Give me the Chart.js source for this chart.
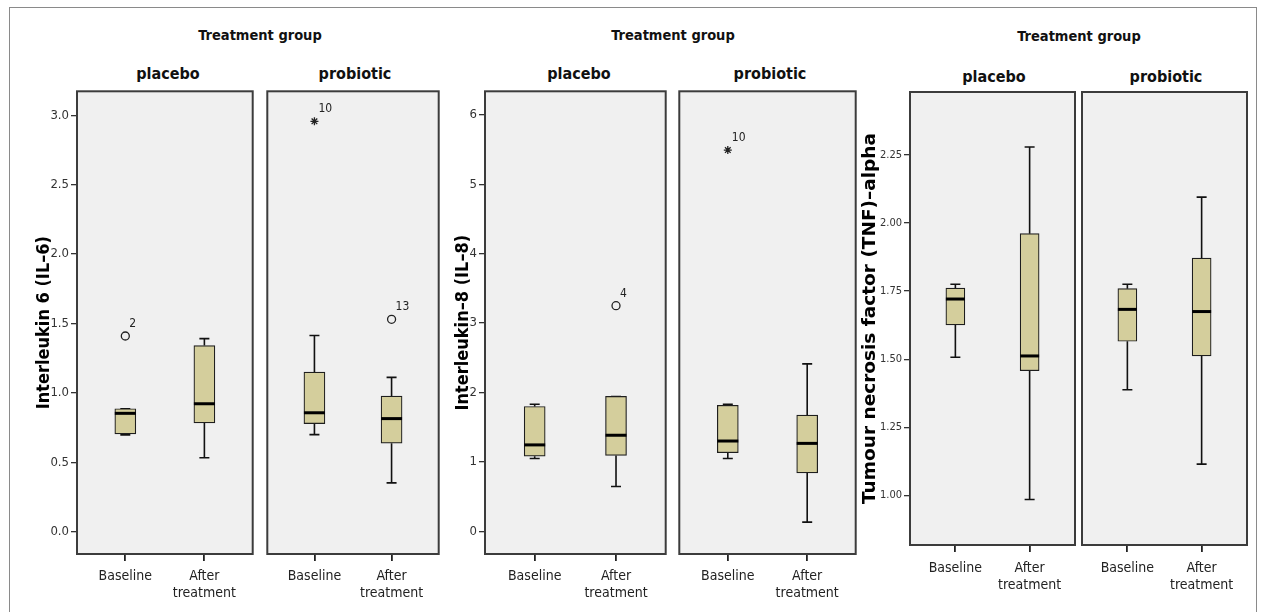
<!DOCTYPE html>
<html>
<head>
<meta charset="utf-8">
<script src="https://cdn.jsdelivr.net/npm/chart.js@4.4.1/dist/chart.umd.min.js"></script>
<style>
  body { margin: 0; background: #fff; width: 1261px; height: 612px; overflow: hidden; position: relative;
         font-family: "DejaVu Sans Condensed", "DejaVu Sans", sans-serif; }
  .outer { position: absolute; left: 9px; top: 7px; width: 1246px; height: 640px; border: 1px solid #8a8a8a; }
  .head { position: absolute; transform: translate(-50%, -50%); font-weight: bold; white-space: nowrap; color: #111; }
  .group { font-size: 14.5px; }
  .sub { font-size: 16px; }
  canvas { position: absolute; }
</style>
</head>
<body>
<div class="outer"></div>

<div class="head group" style="left:260px;top:35px">Treatment group</div>
<div class="head sub" style="left:168px;top:73px">placebo</div>
<div class="head sub" style="left:355px;top:73px">probiotic</div>

<div class="head group" style="left:673px;top:35px">Treatment group</div>
<div class="head sub" style="left:579px;top:73px">placebo</div>
<div class="head sub" style="left:770px;top:73px">probiotic</div>

<div class="head group" style="left:1079px;top:36px">Treatment group</div>
<div class="head sub" style="left:994px;top:76px">placebo</div>
<div class="head sub" style="left:1166px;top:76px">probiotic</div>

<canvas id="c0"></canvas><canvas id="c1"></canvas>
<canvas id="c2"></canvas><canvas id="c3"></canvas>
<canvas id="c4"></canvas><canvas id="c5"></canvas>

<script>
// ---- values ----
const CATEGORIES = ['Baseline', ['After', 'treatment']];

// one row per category: [min, q1, median, q3, max]
const IL6_PLACEBO   = [[0.698, 0.705, 0.853, 0.886, 0.886], [0.533, 0.784, 0.922, 1.341, 1.391]];
const IL6_PROBIOTIC = [[0.700, 0.779, 0.857, 1.150, 1.413], [0.352, 0.638, 0.815, 0.977, 1.112]];
const IL8_PLACEBO   = [[1.050, 1.084, 1.246, 1.799, 1.832], [0.648, 1.095, 1.385, 1.944, 1.944]];
const IL8_PROBIOTIC = [[1.050, 1.134, 1.302, 1.816, 1.832], [0.134, 0.844, 1.268, 1.676, 2.413]];
const TNF_PLACEBO   = [[1.507, 1.626, 1.721, 1.761, 1.775], [0.985, 1.458, 1.512, 1.961, 2.279]];
const TNF_PROBIOTIC = [[1.388, 1.566, 1.683, 1.759, 1.775], [1.115, 1.512, 1.675, 1.871, 2.095]];

// outliers: [category index, value, case number, marker]
const IL6_PLACEBO_OUT   = [[0, 1.41, '2', 'circle']];
const IL6_PROBIOTIC_OUT = [[0, 2.956, '10', 'star'], [1, 1.53, '13', 'circle']];
const IL8_PLACEBO_OUT   = [[1, 3.251, '4', 'circle']];
const IL8_PROBIOTIC_OUT = [[0, 5.492, '10', 'star']];

const IL6_TICKS = [0, 0.5, 1, 1.5, 2, 2.5, 3];
const IL8_TICKS = [0, 1, 2, 3, 4, 5, 6];
const TNF_TICKS = [1, 1.25, 1.5, 1.75, 2, 2.25];

// ---- layout ----
const FONT = '"DejaVu Sans Condensed", "DejaVu Sans", sans-serif';
const WIDE = '"DejaVu Sans", sans-serif';
const PANELS = [
  { title: 'Interleukin 6 (IL–6)', ticks: IL6_TICKS, dec: 1, yMin: -0.160, yMax: 3.172,
    top: 88, bottom: 554, axisLeft: 28, titleX: 44, titleFont: FONT, titleSize: 18, tickSize: 13,
    boxW: 21, labelPad: 7,
    subs: [{ left: 77, right: 256, stats: IL6_PLACEBO, out: IL6_PLACEBO_OUT },
           { left: 264, right: 442, stats: IL6_PROBIOTIC, out: IL6_PROBIOTIC_OUT }] },
  { title: 'Interleukin–8 (IL–8)', ticks: IL8_TICKS, dec: 0, yMin: -0.325, yMax: 6.338,
    top: 88, bottom: 554, axisLeft: 447, titleX: 463, titleFont: FONT, titleSize: 18, tickSize: 13,
    boxW: 21, labelPad: 7,
    subs: [{ left: 485, right: 669, stats: IL8_PLACEBO, out: IL8_PLACEBO_OUT },
           { left: 676, right: 859, stats: IL8_PROBIOTIC, out: IL8_PROBIOTIC_OUT }] },
  { title: 'Tumour necrosis factor (TNF)–alpha', ticks: TNF_TICKS, dec: 2, yMin: 0.818, yMax: 2.481,
    top: 92, bottom: 545, axisLeft: 858, titleX: 870, titleFont: WIDE, titleSize: 18.5, tickSize: 11,
    boxW: 19, labelPad: 8,
    subs: [{ left: 910, right: 1075, stats: TNF_PLACEBO, out: [] },
           { left: 1082, right: 1247, stats: TNF_PROBIOTIC, out: [] }] }
];

const boxPlugin = {
  id: 'boxplot',
  beforeDraw(chart) {
    const { ctx, chartArea: a } = chart;
    ctx.save();
    ctx.fillStyle = '#f0f0f0';
    ctx.fillRect(a.left, a.top, a.right - a.left, a.bottom - a.top);
    ctx.restore();
  },
  beforeDatasetsDraw(chart) {
    const { ctx, scales: { x, y } } = chart;
    const ds = chart.data.datasets[0];
    ctx.save();
    ctx.strokeStyle = '#111';
    ctx.lineWidth = 1.6;
    ds.stats.forEach((s, i) => {
      const px = x.getPixelForValue(i + 1);
      const [lo, q1, , q3, hi] = s.map(v => y.getPixelForValue(v));
      ctx.beginPath();
      ctx.moveTo(px, q1); ctx.lineTo(px, lo);
      ctx.moveTo(px, q3); ctx.lineTo(px, hi);
      ctx.moveTo(px - 5, lo); ctx.lineTo(px + 5, lo);
      ctx.moveTo(px - 5, hi); ctx.lineTo(px + 5, hi);
      ctx.stroke();
    });
    ctx.restore();
  },
  afterDatasetsDraw(chart) {
    const { ctx, scales: { x, y } } = chart;
    const ds = chart.data.datasets[0];
    const meta = chart.getDatasetMeta(0);
    ctx.save();
    ctx.strokeStyle = '#000';
    ctx.lineWidth = 3;
    ds.stats.forEach((s, i) => {
      const bar = meta.data[i];
      const py = y.getPixelForValue(s[2]);
      ctx.beginPath();
      ctx.moveTo(bar.x - bar.width / 2, py);
      ctx.lineTo(bar.x + bar.width / 2, py);
      ctx.stroke();
    });
    // case numbers next to outliers
    const outDs = chart.data.datasets[1];
    ctx.fillStyle = '#222';
    ctx.font = '12px ' + FONT;
    ctx.textAlign = 'left';
    ctx.textBaseline = 'middle';
    outDs.caseLabels.forEach((lab, i) => {
      const p = outDs.data[i];
      ctx.fillText(lab, x.getPixelForValue(p.x) + 4, y.getPixelForValue(p.y) - 12);
    });
    ctx.restore();
  },
  afterDraw(chart) {
    const { ctx, chartArea: a } = chart;
    ctx.save();
    ctx.strokeStyle = '#3c3c3c';
    ctx.lineWidth = 2;
    ctx.strokeRect(a.left, a.top, a.right - a.left, a.bottom - a.top);
    ctx.restore();
  }
};

function makeChart(canvasId, panel, sub, withAxis) {
  const cv = document.getElementById(canvasId);
  const left = withAxis ? panel.axisLeft : sub.left - 2;
  const top = panel.top - 2;
  cv.width = sub.right + 2 - left;
  cv.height = 612 - top;
  cv.style.left = left + 'px';
  cv.style.top = top + 'px';
  const titleLH = panel.titleSize * 1.2;
  const axisW = withAxis ? sub.left - panel.axisLeft : 0;

  return new Chart(cv, {
    type: 'bar',
    data: {
      datasets: [{
        data: sub.stats.map((s, i) => ({ x: i + 1, y: [s[1], s[3]] })),
        stats: sub.stats,
        backgroundColor: '#d4ce9c',
        borderColor: '#1e1e1e',
        borderWidth: 1.2,
        borderSkipped: false,
        barThickness: panel.boxW
      }, {
        type: 'line',
        data: sub.out.map(o => ({ x: o[0] + 1, y: o[1] })),
        caseLabels: sub.out.map(o => o[2]),
        showLine: false,
        pointStyle: sub.out.map(o => o[3]),
        pointRadius: 4,
        pointBorderWidth: 1.3,
        pointBorderColor: '#222',
        pointBackgroundColor: 'rgba(0,0,0,0)'
      }]
    },
    options: {
      responsive: false,
      animation: false,
      devicePixelRatio: 1,
      layout: { padding: { top: 2, right: 2, bottom: 0, left: withAxis ? 0 : 2 } },
      plugins: { legend: { display: false }, tooltip: { enabled: false } },
      scales: {
        x: {
          type: 'linear', min: 0.389, max: 2.611, offset: false,
          border: { display: false },
          grid: { offset: false, drawOnChartArea: false, drawTicks: true, tickLength: 7,
                  tickColor: '#222', tickWidth: 1.8, lineWidth: 1.8 },
          ticks: { padding: panel.labelPad, color: '#222', font: { family: FONT, size: 14, lineHeight: 1.2 },
                   maxRotation: 0, autoSkip: false, callback: (v, i) => CATEGORIES[i] },
          afterBuildTicks: (s) => { s.ticks = CATEGORIES.map((c, i) => ({ value: i + 1 })); },
          afterFit: (s) => { s.height = 612 - panel.bottom; s.paddingLeft = 0; s.paddingRight = 0; }
        },
        y: {
          min: panel.yMin, max: panel.yMax,
          border: { display: false },
          grid: { drawOnChartArea: false, drawTicks: withAxis, tickLength: 6,
                  tickColor: '#333', tickWidth: 1.3, lineWidth: 1.3 },
          ticks: { display: withAxis, padding: 2, color: '#333', font: { family: FONT, size: panel.tickSize },
                   callback: (v) => v.toFixed(panel.dec) },
          title: { display: withAxis, text: panel.title, color: '#000',
                   font: { family: panel.titleFont, size: panel.titleSize, weight: 'bold', lineHeight: 1.2 },
                   padding: { top: panel.titleX - panel.axisLeft - titleLH / 2, bottom: 0 } },
          afterBuildTicks: (s) => { s.ticks = panel.ticks.map(v => ({ value: v })); },
          afterFit: (s) => { s.width = axisW; s.paddingTop = 0; s.paddingBottom = 0; }
        }
      }
    },
    plugins: [boxPlugin]
  });
}

let n = 0;
PANELS.forEach(panel => {
  panel.subs.forEach((sub, j) => {
    makeChart('c' + n, panel, sub, j === 0);
    n++;
  });
});
</script>
</body>
</html>
